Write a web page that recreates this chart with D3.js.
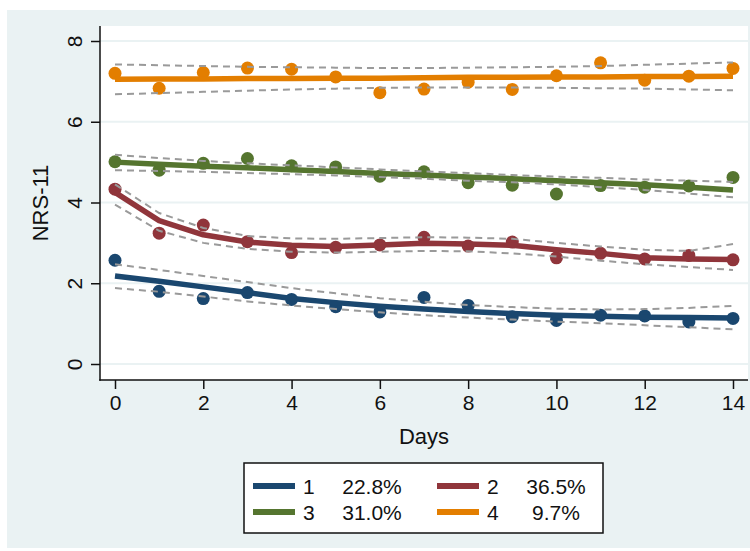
<!DOCTYPE html>
<html lang="en">
  <head>
    <meta charset="UTF-8" />
    <title>NRS-11 trajectories</title>
    <style>
      body {
        margin: 0;
        background: #fff;
      }
      text {
        font-family: "Liberation Sans", Arial, sans-serif;
        fill: #111;
      }
    </style>
    <script src="https://cdn.jsdelivr.net/npm/d3@7"></script>
  </head>
  <body>
    <div id="chart"></div>
    <script>
      const days = [0, 1, 2, 3, 4, 5, 6, 7, 8, 9, 10, 11, 12, 13, 14];
      const xTicks = [0, 2, 4, 6, 8, 10, 12, 14];
      const yTicks = [0, 2, 4, 6, 8];

      const groups = ["1", "2", "3", "4"];
      const shares = ["22.8%", "36.5%", "31.0%", "9.7%"];
      const colors = ["#1a476f", "#90353b", "#55752f", "#e37e00"];

      // observed means
      const obs1 = [2.57, 1.8, 1.62, 1.77, 1.6, 1.42, 1.29, 1.65, 1.45, 1.17, 1.08, 1.21, 1.19, 1.04, 1.13];
      const obs2 = [4.33, 3.24, 3.44, 3.03, 2.76, 2.89, 2.95, 3.14, 2.92, 3.02, 2.63, 2.74, 2.6, 2.69, 2.58];
      const obs3 = [5.01, 4.8, 4.97, 5.09, 4.91, 4.88, 4.65, 4.76, 4.49, 4.43, 4.21, 4.42, 4.38, 4.41, 4.62];
      const obs4 = [7.2, 6.83, 7.22, 7.33, 7.3, 7.11, 6.72, 6.81, 6.98, 6.8, 7.14, 7.46, 7.03, 7.13, 7.32];

      // fitted trajectories
      const fit1 = [2.18, 2.05, 1.91, 1.77, 1.62, 1.52, 1.43, 1.36, 1.3, 1.25, 1.21, 1.18, 1.16, 1.15, 1.14];
      const fit2 = [4.25, 3.55, 3.2, 3.02, 2.94, 2.91, 2.95, 2.99, 2.97, 2.94, 2.83, 2.74, 2.63, 2.6, 2.59];
      const fit3 = [5.0, 4.95, 4.9, 4.86, 4.81, 4.77, 4.72, 4.68, 4.63, 4.59, 4.54, 4.49, 4.44, 4.38, 4.31];
      const fit4 = [7.05, 7.06, 7.06, 7.07, 7.07, 7.08, 7.08, 7.09, 7.1, 7.1, 7.11, 7.11, 7.12, 7.12, 7.13];

      // confidence bands
      const up1 = [2.47, 2.33, 2.18, 2.03, 1.88, 1.75, 1.63, 1.54, 1.46, 1.41, 1.37, 1.35, 1.36, 1.39, 1.44];
      const lo1 = [1.88, 1.79, 1.67, 1.55, 1.45, 1.36, 1.28, 1.21, 1.15, 1.1, 1.05, 1.01, 0.96, 0.91, 0.86];
      const up2 = [4.45, 3.74, 3.37, 3.17, 3.11, 3.1, 3.12, 3.14, 3.13, 3.1, 3.0, 2.91, 2.83, 2.8, 2.97];
      const lo2 = [3.95, 3.3, 3.0, 2.85, 2.78, 2.76, 2.78, 2.8, 2.79, 2.74, 2.66, 2.56, 2.47, 2.4, 2.33];
      const up3 = [5.18, 5.1, 5.03, 4.97, 4.92, 4.87, 4.82, 4.77, 4.73, 4.68, 4.64, 4.61, 4.57, 4.54, 4.51];
      const lo3 = [4.8, 4.78, 4.76, 4.73, 4.7, 4.67, 4.63, 4.59, 4.54, 4.5, 4.45, 4.38, 4.31, 4.22, 4.13];
      const up4 = [7.42, 7.4, 7.38, 7.36, 7.35, 7.34, 7.33, 7.33, 7.34, 7.35, 7.36, 7.38, 7.41, 7.44, 7.47];
      const lo4 = [6.68, 6.71, 6.74, 6.77, 6.8, 6.82, 6.84, 6.85, 6.85, 6.85, 6.84, 6.83, 6.82, 6.8, 6.78];

      function init() {
        const W = 750,
          H = 551;
        const plot = { left: 100, right: 748, top: 26, bottom: 380 };

        const svg = d3
          .select("#chart")
          .append("svg")
          .attr("width", W)
          .attr("height", H);

        // graph region + plot region
        svg.append("rect")
          .attr("x", 7).attr("y", 10)
          .attr("width", W - 7).attr("height", 538)
          .attr("fill", "#eaf2f3");
        svg.append("rect")
          .attr("x", plot.left).attr("y", plot.top)
          .attr("width", plot.right - plot.left)
          .attr("height", plot.bottom - plot.top)
          .attr("fill", "#fff");

        const x = d3.scaleLinear().domain([0, 14]).range([115, 733]);
        const y = d3.scaleLinear().domain([0, 8]).range([364, 41]);

        // grid
        svg.append("g")
          .selectAll("line")
          .data(yTicks)
          .enter()
          .append("line")
          .attr("x1", plot.left)
          .attr("x2", plot.right)
          .attr("y1", (d) => y(d))
          .attr("y2", (d) => y(d))
          .attr("stroke", "#eaf2f3")
          .attr("stroke-width", 2);

        const series = [
          { obs: obs1, fit: fit1, up: up1, lo: lo1 },
          { obs: obs2, fit: fit2, up: up2, lo: lo2 },
          { obs: obs3, fit: fit3, up: up3, lo: lo3 },
          { obs: obs4, fit: fit4, up: up4, lo: lo4 },
        ];

        const line = d3
          .line()
          .x((d, i) => x(days[i]))
          .y((d) => y(d));

        const marks = svg.append("g");
        series.forEach((s, k) => {
          const g = marks.append("g");
          g.selectAll("circle")
            .data(s.obs)
            .enter()
            .append("circle")
            .attr("cx", (d, i) => x(days[i]))
            .attr("cy", (d) => y(d))
            .attr("r", 6.5)
            .attr("fill", colors[k]);
          g.append("path")
            .attr("d", line(s.fit))
            .attr("fill", "none")
            .attr("stroke", colors[k])
            .attr("stroke-width", 5.5)
            .attr("stroke-linejoin", "round");
          [s.up, s.lo].forEach((band) => {
            g.append("path")
              .attr("d", line(band))
              .attr("fill", "none")
              .attr("stroke", "#9a9a9a")
              .attr("stroke-width", 2)
              .attr("stroke-dasharray", "7,5");
          });
        });

        // axes
        const xAxis = svg
          .append("g")
          .attr("transform", "translate(0," + plot.bottom + ")")
          .call(d3.axisBottom(x).tickValues(xTicks).tickSize(9).tickPadding(6));
        xAxis.select(".domain").remove();
        xAxis.selectAll("line").attr("stroke", "#111").attr("stroke-width", 1.5);
        xAxis.selectAll("text")
          .style("font-size", "21px")
          .attr("fill", "#111");

        const yAxis = svg
          .append("g")
          .attr("transform", "translate(" + plot.left + ",0)")
          .call(d3.axisLeft(y).tickValues(yTicks).tickSize(9));
        yAxis.select(".domain").remove();
        yAxis.selectAll("line").attr("stroke", "#111").attr("stroke-width", 1.5);
        yAxis.selectAll("text")
          .style("font-size", "21px")
          .attr("fill", "#111")
          .attr("x", 0)
          .attr("y", -18)
          .attr("dy", 0)
          .attr("text-anchor", "middle")
          .attr("transform", "rotate(-90)");

        svg.append("line")
          .attr("x1", plot.left).attr("x2", plot.left)
          .attr("y1", plot.top).attr("y2", plot.bottom + 0.75)
          .attr("stroke", "#111").attr("stroke-width", 1.5);
        svg.append("line")
          .attr("x1", plot.left - 0.75).attr("x2", plot.right)
          .attr("y1", plot.bottom).attr("y2", plot.bottom)
          .attr("stroke", "#111").attr("stroke-width", 1.5);

        // titles
        svg.append("text")
          .attr("transform", "translate(48,203) rotate(-90)")
          .attr("text-anchor", "middle")
          .style("font-size", "22px")
          .text("NRS-11");
        svg.append("text")
          .attr("x", (plot.left + plot.right) / 2)
          .attr("y", 444)
          .attr("text-anchor", "middle")
          .style("font-size", "22px")
          .text("Days");

        // legend
        const lg = svg.append("g");
        lg.append("rect")
          .attr("x", 244).attr("y", 463)
          .attr("width", 359).attr("height", 70)
          .attr("fill", "#fff")
          .attr("stroke", "#111")
          .attr("stroke-width", 1.5);
        const cols = [253, 437];
        const rows = [486, 512];
        groups.forEach((gname, i) => {
          const cx = cols[i % 2];
          const cy = rows[Math.floor(i / 2)];
          lg.append("rect")
            .attr("x", cx).attr("y", cy - 3)
            .attr("width", 42).attr("height", 6)
            .attr("fill", colors[i]);
          lg.append("text")
            .attr("x", cx + 50).attr("y", cy + 8)
            .style("font-size", "21px")
            .text(gname);
          lg.append("text")
            .attr("x", cx + 119).attr("y", cy + 8)
            .attr("text-anchor", "middle")
            .style("font-size", "21px")
            .text(shares[i]);
        });
      }

      init();
    </script>
  </body>
</html>
